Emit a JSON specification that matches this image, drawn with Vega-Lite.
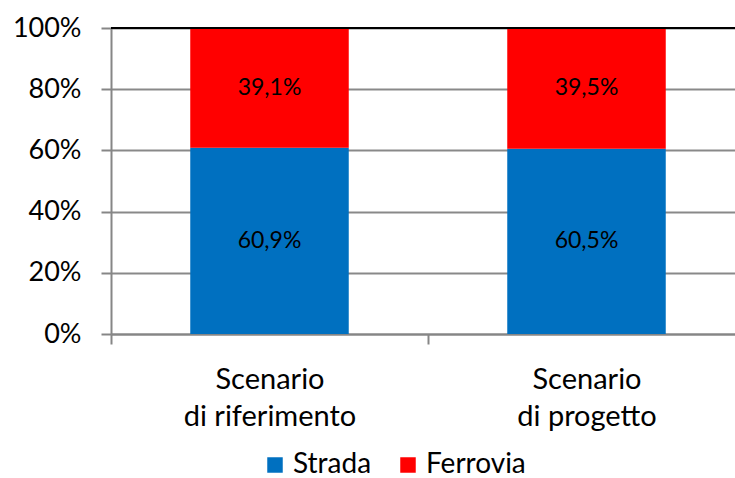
{
  "$schema": "https://vega.github.io/schema/vega-lite/v6.json",
  "autosize": "none",
  "width": 634,
  "height": 306,
  "padding": {"left": 111, "top": 28, "right": 0, "bottom": 144},
  "background": "white",
  "config": {"font": "Lato", "view": {"stroke": null}},
  "data": {"values": [
    {"scenario": "Scenario|di riferimento", "mode": "Strada", "value": 0.609, "label": "60,9%"},
    {"scenario": "Scenario|di riferimento", "mode": "Ferrovia", "value": 0.391, "label": "39,1%"},
    {"scenario": "Scenario|di progetto", "mode": "Strada", "value": 0.605, "label": "60,5%"},
    {"scenario": "Scenario|di progetto", "mode": "Ferrovia", "value": 0.395, "label": "39,5%"}
  ]},
  "transform": [
    {"stack": "value", "groupby": ["scenario"], "sort": [{"field": "mode", "order": "descending"}], "as": ["v0", "v1"]},
    {"calculate": "(datum.v0 + datum.v1) / 2", "as": "mid"}
  ],
  "layer": [
    {
      "mark": {"type": "bar", "width": {"band": 0.5}},
      "encoding": {
        "x": {"field": "scenario", "type": "nominal", "sort": null,
          "scale": {"paddingInner": 0, "paddingOuter": 0},
          "axis": {"title": null, "labelAngle": 0, "labelExpr": "split(datum.label, '|')",
            "labelFontSize": 29, "labelColor": "black", "labelPadding": 21, "labelLineHeight": 37,
            "tickBand": "extent", "tickSize": 10, "tickColor": "#868686", "tickWidth": 2,
            "domainColor": "#868686", "domainWidth": 2, "grid": false}},
        "y": {"field": "v0", "type": "quantitative", "scale": {"domain": [0, 1]},
          "axis": {"title": null, "format": ".0%", "values": [0, 0.2, 0.4, 0.6, 0.8, 1],
            "labelFontSize": 27, "labelColor": "black", "labelPadding": 20,
            "tickSize": 10, "tickColor": "#868686", "tickWidth": 2,
            "domainColor": "#868686", "domainWidth": 2,
            "grid": true, "gridColor": "#898989", "gridWidth": 2}},
        "y2": {"field": "v1"},
        "color": {"field": "mode", "type": "nominal",
          "scale": {"domain": ["Strada", "Ferrovia"], "range": ["#0070C0", "#FF0000"]},
          "legend": {"title": null, "orient": "none", "direction": "horizontal",
            "legendX": 150, "legendY": 423, "symbolType": "square", "symbolSize": 240,
            "symbolStrokeWidth": 0, "labelFontSize": 28, "labelColor": "black",
            "columnPadding": 22, "labelOffset": 4, "labelLimit": 300}}
      }
    },
    {
      "mark": {"type": "text", "fontSize": 23, "color": "black"},
      "encoding": {
        "x": {"field": "scenario", "type": "nominal", "sort": null},
        "y": {"field": "mid", "type": "quantitative"},
        "text": {"field": "label"}
      }
    },
    {
      "mark": {"type": "rule", "color": "black", "strokeWidth": 2},
      "encoding": {"y": {"datum": 1, "type": "quantitative"}}
    }
  ]
}
